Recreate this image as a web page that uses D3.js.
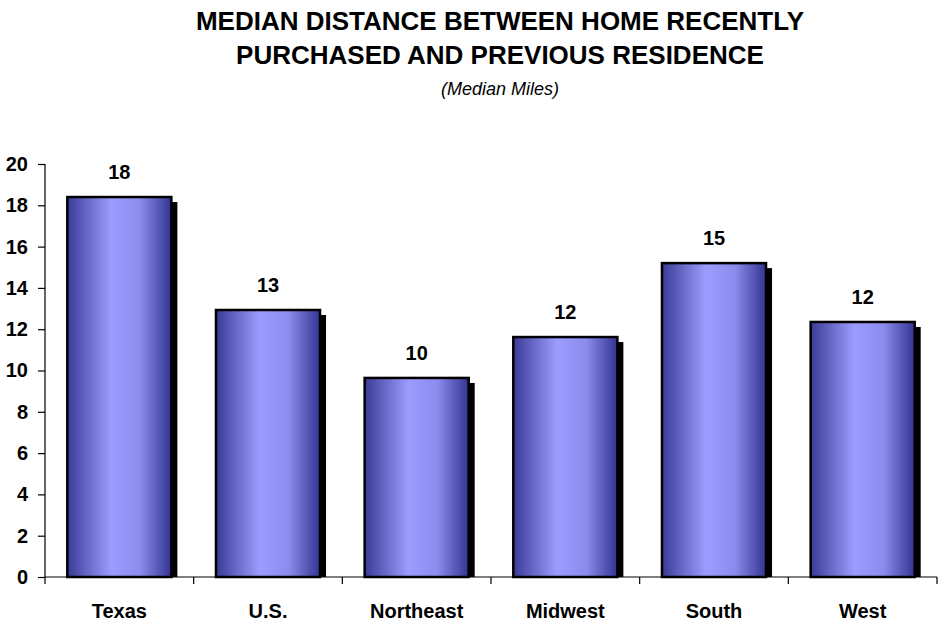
<!DOCTYPE html>
<html>
<head>
<meta charset="utf-8">
<script src="https://cdn.jsdelivr.net/npm/d3@7"></script>
<style>
  body { margin: 0; background: #fff; }
  svg { font-family: "Liberation Sans", Arial, sans-serif; }
</style>
</head>
<body>
<svg id="chart" width="940" height="625"></svg>
<script>
// data
var regions = ["Texas", "U.S.", "Northeast", "Midwest", "South", "West"];
var miles = [18.4, 12.93, 9.64, 11.62, 15.2, 12.35];
var yTicks = [0, 2, 4, 6, 8, 10, 12, 14, 16, 18, 20];

var margin = {top: 164, left: 45, bottom: 48, right: 3};
var width = 940 - margin.left - margin.right;
var height = 625 - margin.top - margin.bottom;

var svg = d3.select("#chart");

// gradient for the bars
var grad = svg.append("defs").append("linearGradient")
    .attr("id", "barfill")
    .attr("x1", "0%").attr("x2", "100%").attr("y1", "0%").attr("y2", "0%");
grad.append("stop").attr("offset", "0%").attr("stop-color", "#3a3a96");
grad.append("stop").attr("offset", "42%").attr("stop-color", "#9c9cff");
grad.append("stop").attr("offset", "70%").attr("stop-color", "#8c8cee");
grad.append("stop").attr("offset", "100%").attr("stop-color", "#333392");

// titles
svg.append("text").attr("x", 500).attr("y", 30)
    .attr("text-anchor", "middle").style("font-size", "26px").style("font-weight", "bold")
    .text("MEDIAN DISTANCE BETWEEN HOME RECENTLY");
svg.append("text").attr("x", 500).attr("y", 64)
    .attr("text-anchor", "middle").style("font-size", "26px").style("font-weight", "bold")
    .text("PURCHASED AND PREVIOUS RESIDENCE");
svg.append("text").attr("x", 500).attr("y", 95)
    .attr("text-anchor", "middle").style("font-size", "18px").style("font-style", "italic")
    .text("(Median Miles)");

var g = svg.append("g")
    .attr("transform", "translate(" + margin.left + "," + margin.top + ")");

var x = d3.scaleBand().domain(regions).range([0, width]).paddingInner(0.3).paddingOuter(0.15);
var xOuter = d3.scaleBand().domain(regions).range([0, width]);
var y = d3.scaleLinear().domain([0, 20]).range([height, 0]);

// shadows
g.selectAll(".shadow")
    .data(miles)
    .enter().append("rect")
    .attr("class", "shadow")
    .attr("x", (d, i) => x(regions[i]) + 6)
    .attr("y", d => y(d) + 5)
    .attr("width", x.bandwidth())
    .attr("height", d => height - y(d) - 5)
    .attr("fill", "#000");

// bars
g.selectAll(".bar")
    .data(miles)
    .enter().append("rect")
    .attr("class", "bar")
    .attr("x", (d, i) => x(regions[i]))
    .attr("y", d => y(d))
    .attr("width", x.bandwidth())
    .attr("height", d => height - y(d))
    .attr("fill", "url(#barfill)")
    .attr("stroke", "#000")
    .attr("stroke-width", 2.5);

// value labels
var fmt = d3.format(".0f");
g.selectAll(".val")
    .data(miles)
    .enter().append("text")
    .attr("class", "val")
    .attr("x", (d, i) => x(regions[i]) + x.bandwidth() / 2)
    .attr("y", d => y(d) - 18)
    .attr("text-anchor", "middle")
    .style("font-size", "20px").style("font-weight", "bold")
    .text(d => fmt(d));

// y axis
var yAxis = d3.axisLeft(y).tickValues(yTicks).tickSize(7).tickPadding(10);
var ya = g.append("g").call(yAxis);
ya.select(".domain").attr("stroke", "#000").attr("stroke-width", 1.2).attr("d", "M0," + height + "V0");
ya.selectAll("line").attr("stroke", "#000").attr("stroke-width", 1.2);
ya.selectAll("text").style("font-size", "20px").style("font-weight", "bold").attr("fill", "#000")
    .attr("font-family", null);

// x axis: ticks at category boundaries, below the line
var xa = g.append("g").attr("transform", "translate(0," + height + ")");
xa.append("line").attr("x1", 0).attr("x2", width).attr("stroke", "#000").attr("stroke-width", 1.2);
xa.selectAll(".xt")
    .data(regions.concat(["end"]))
    .enter().append("line")
    .attr("x1", (d, i) => i * xOuter.step())
    .attr("x2", (d, i) => i * xOuter.step())
    .attr("y1", 0).attr("y2", 7)
    .attr("stroke", "#000").attr("stroke-width", 1.2);
xa.selectAll(".xl")
    .data(regions)
    .enter().append("text")
    .attr("x", d => xOuter(d) + xOuter.bandwidth() / 2)
    .attr("y", 41)
    .attr("text-anchor", "middle")
    .style("font-size", "20px").style("font-weight", "bold")
    .text(d => d);
</script>
</body>
</html>
